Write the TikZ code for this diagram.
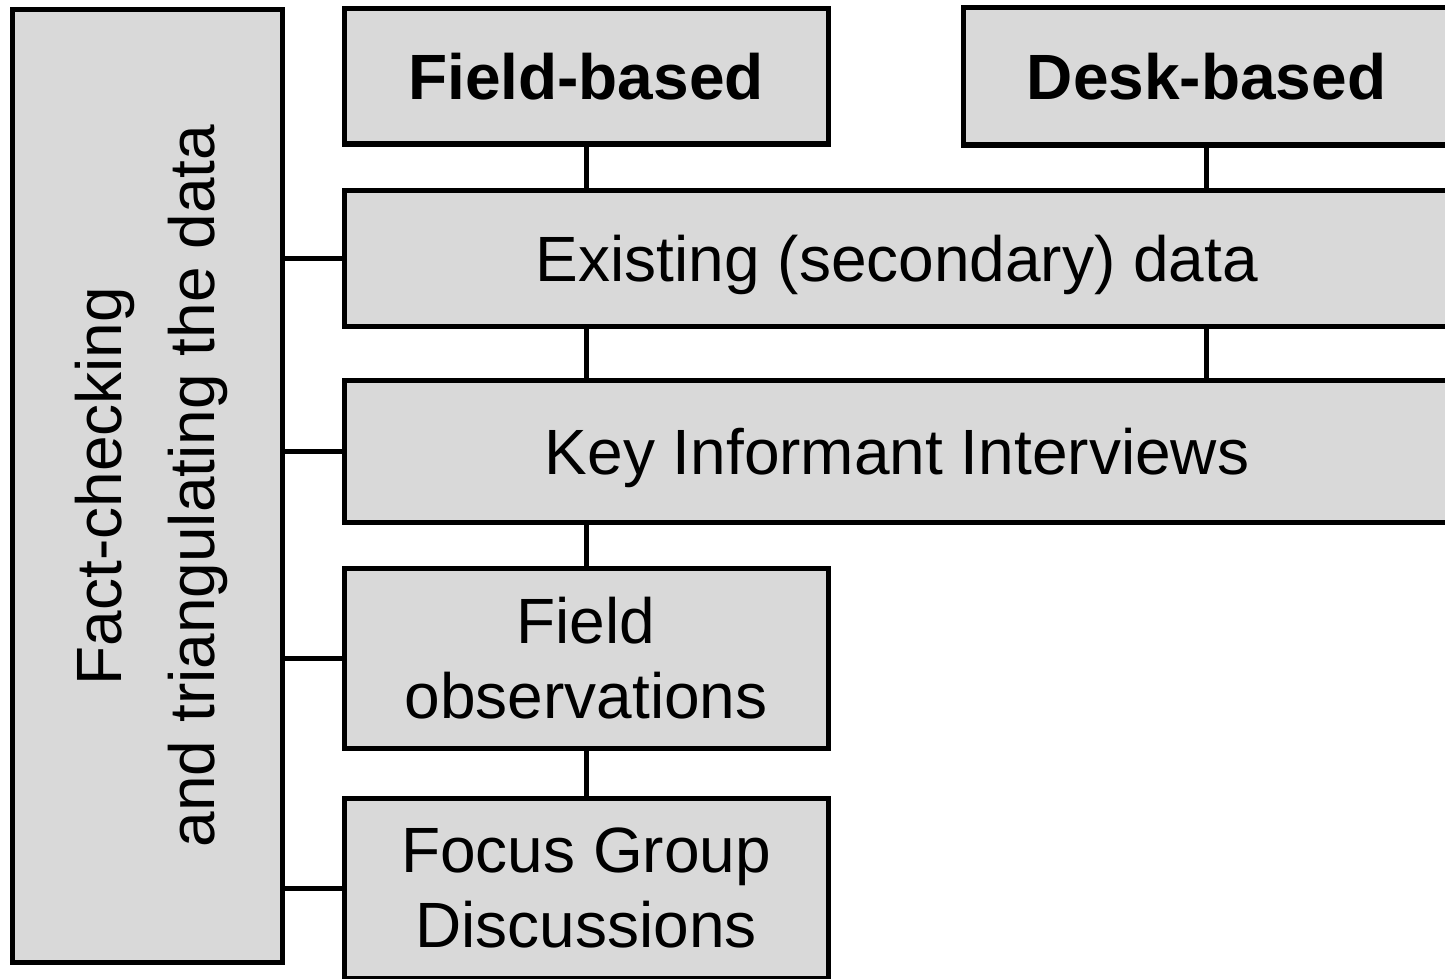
\documentclass[tikz,border=0pt]{standalone}
\usepackage{fontspec}
\setmainfont{Liberation Sans}
\definecolor{boxgray}{HTML}{D9D9D9}
\begin{document}
\begin{tikzpicture}[x=1pt,y=-1pt,
  box/.style={draw=black,fill=boxgray,line width=5pt,inner sep=0pt,align=center,
    font=\fontsize{64}{75}\selectfont},
  link/.style={draw=black,line width=5pt}]
\useasboundingbox (0,0) rectangle (1445,979);
\node[box,minimum width=270pt,minimum height=952pt] (left) at (147,486)
  {};
\node[rotate=90,align=center,font=\fontsize{64}{93}\selectfont] (lefttxt) at (151,486)
  {Fact-checking\\and triangulating the data};
\node[box,minimum width=484pt,minimum height=135pt,font=\fontsize{64}{75}\selectfont\bfseries] (field) at (586,76.5) {Field-based};
\node[box,minimum width=487pt,minimum height=137pt,font=\fontsize{64}{75}\selectfont\bfseries] (desk) at (1206.5,76.5) {Desk-based};
\node[box,minimum width=1106pt,minimum height=136pt,text depth=0pt] (exist) at (897,258) {Existing (secondary) data};
\node[box,minimum width=1106pt,minimum height=142pt,text depth=0pt] (kii) at (897,451) {Key Informant Interviews};
\node[box,minimum width=484pt,minimum height=180pt] (fobs) at (586,658) {Field\\observations};
\node[box,minimum width=484pt,minimum height=180pt] (fgd) at (586,888) {Focus Group\\Discussions};
\draw[link] (field.south) -- (field.south |- exist.north);
\draw[link] (desk.south) -- (desk.south |- exist.north);
\draw[link] (field.south |- exist.south) -- (field.south |- kii.north);
\draw[link] (desk.south |- exist.south) -- (desk.south |- kii.north);
\draw[link] (fobs.north |- kii.south) -- (fobs.north);
\draw[link] (fobs.south) -- (fgd.north);
\draw[link] (left.east |- exist.west) -- (exist.west);
\draw[link] (left.east |- kii.west) -- (kii.west);
\draw[link] (left.east |- fobs.west) -- (fobs.west);
\draw[link] (left.east |- fgd.west) -- (fgd.west);
\end{tikzpicture}
\end{document}
